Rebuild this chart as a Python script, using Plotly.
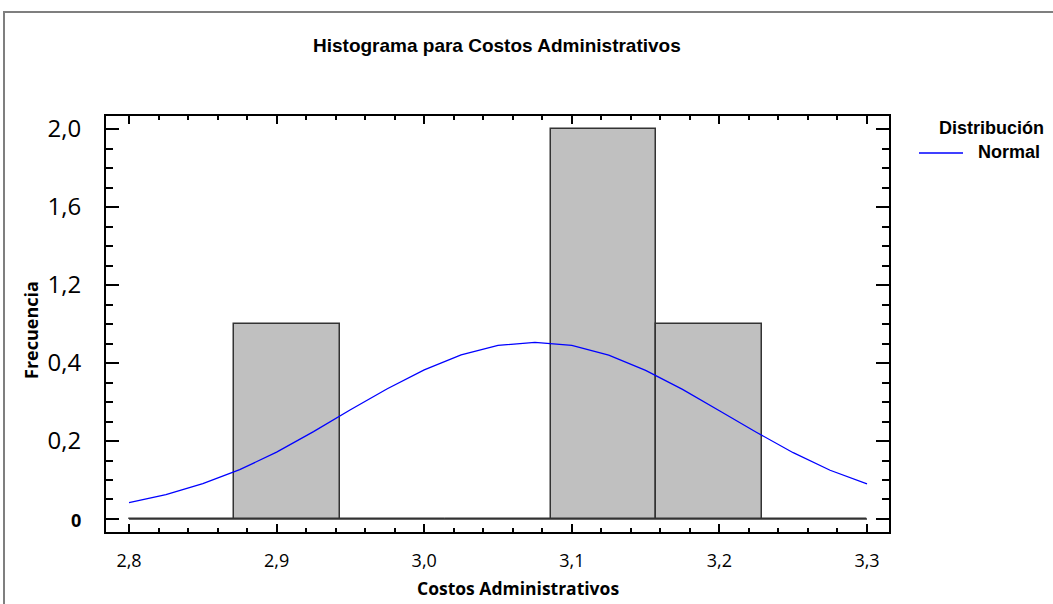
import plotly.graph_objects as go

# ---------------- data ----------------
bin_start = 2.8
bin_end = 3.3
counts = [0, 1, 0, 0, 2, 1, 0]

curve_x = [2.800, 2.825, 2.850, 2.875, 2.900, 2.925, 2.950, 2.975, 3.000, 3.025, 3.050,
           3.075, 3.100, 3.125, 3.150, 3.175, 3.200, 3.225, 3.250, 3.275, 3.300]
curve_y = [0.084, 0.125, 0.182, 0.253, 0.343, 0.448, 0.560, 0.668, 0.765, 0.842, 0.890,
           0.906, 0.890, 0.840, 0.762, 0.665, 0.555, 0.445, 0.340, 0.250, 0.180]

x_tick_values = [2.8, 2.9, 3.0, 3.1, 3.2, 3.3]
x_tick_labels = ["2,8", "2,9", "3,0", "3,1", "3,2", "3,3"]
y_tick_values = [0, 0.4, 0.8, 1.2, 1.6, 2.0]
y_tick_labels = ["<span style='font-size:18px'><b>0</b></span>", "0,2", "0,4", "1,2", "1,6", "2,0"]

# ---------------- derived ----------------
nb = len(counts)
bw = (bin_end - bin_start) / nb
centers = [bin_start + bw * (i + 0.5) for i in range(nb)]

fig = go.Figure()
fig.add_trace(go.Scatter(x=[bin_start, bin_end], y=[0, 0], mode="lines",
                         line=dict(color="#333333", width=1.5), hoverinfo="skip",
                         showlegend=False))
fig.add_trace(go.Bar(x=centers, y=counts, width=bw,
                     marker=dict(color="#C0C0C0", line=dict(color="#333333", width=1.5)),
                     showlegend=False))
fig.add_trace(go.Scatter(x=curve_x, y=curve_y, mode="lines", name="Normal",
                         line=dict(color="#0000FF", width=1.3), showlegend=False))

L, R, T, B = 106, 164, 116, 72
W, H = 1053, 604
pw, ph = W - L - R, H - T - B

def px_x(px):
    return (px - L) / pw

def px_y(py):
    return (H - B - py) / ph

fig.update_layout(
    width=W, height=H,
    margin=dict(l=L, r=R, t=T, b=B, pad=0),
    paper_bgcolor="white", plot_bgcolor="white",
    bargap=0,
    xaxis=dict(range=[2.7844, 3.3149], tickmode="array", tickvals=x_tick_values,
               ticktext=x_tick_labels, ticks="inside", ticklen=8, tickwidth=1.5,
               tickcolor="black", showline=True, linecolor="black", linewidth=2,
               mirror="ticks", showgrid=False, zeroline=False,
               tickfont=dict(family="Open Sans", size=18, color="black"),
               ticklabelstandoff=11,
               minor=dict(dtick=0.02, tick0=2.8, ticks="inside", ticklen=4,
                          tickwidth=1.5, tickcolor="black", showgrid=False)),
    yaxis=dict(range=[-0.0667, 2.0667], tickmode="array", tickvals=y_tick_values,
               ticktext=y_tick_labels, ticks="inside", ticklen=13, tickwidth=1.5,
               tickcolor="black", showline=True, linecolor="black", linewidth=2,
               mirror="ticks", showgrid=False, zeroline=False,
               tickfont=dict(family="Open Sans", size=24, color="black"),
               ticklabelstandoff=18,
               minor=dict(dtick=0.1, tick0=0, ticks="inside", ticklen=7,
                          tickwidth=1.5, tickcolor="black", showgrid=False)),
    shapes=[
        dict(type="rect", xref="paper", yref="paper",
             x0=px_x(4), x1=px_x(1070), y0=px_y(620), y1=px_y(12),
             line=dict(color="#7f7f7f", width=2), fillcolor="rgba(0,0,0,0)", layer="below"),
        dict(type="line", xref="paper", yref="paper",
             x0=px_x(919), x1=px_x(963), y0=px_y(153), y1=px_y(153),
             line=dict(color="#0000FF", width=1.3)),
    ],
    annotations=[
        dict(text="<b>Histograma para Costos Administrativos</b>", xref="paper", yref="paper",
             x=px_x(497), y=px_y(45), showarrow=False, xanchor="center", yanchor="middle",
             font=dict(family="Liberation Sans Narrow, Arial Narrow, Liberation Sans", size=19, color="black")),
        dict(text="<b>Costos Administrativos</b>", xref="paper", yref="paper",
             x=px_x(518), y=px_y(588), showarrow=False, xanchor="center", yanchor="middle",
             font=dict(family="Open Sans", size=17.5, color="black")),
        dict(text="<b>Frecuencia</b>", xref="paper", yref="paper", textangle=-90,
             x=px_x(31), y=px_y(330), showarrow=False, xanchor="center", yanchor="middle",
             font=dict(family="Open Sans", size=18, color="black")),
        dict(text="<b>Distribución</b>", xref="paper", yref="paper",
             x=px_x(992), y=px_y(128), showarrow=False, xanchor="center", yanchor="middle",
             font=dict(family="Liberation Sans Narrow, Arial Narrow, Liberation Sans", size=18, color="black")),
        dict(text="<b>Normal</b>", xref="paper", yref="paper",
             x=px_x(1009), y=px_y(152), showarrow=False, xanchor="center", yanchor="middle",
             font=dict(family="Liberation Sans Narrow, Arial Narrow, Liberation Sans", size=18, color="black")),
    ],
)

fig.write_html("out.html", config={"displayModeBar": False},
               post_script="document.body.style.margin='0';document.body.style.overflow='hidden';")
